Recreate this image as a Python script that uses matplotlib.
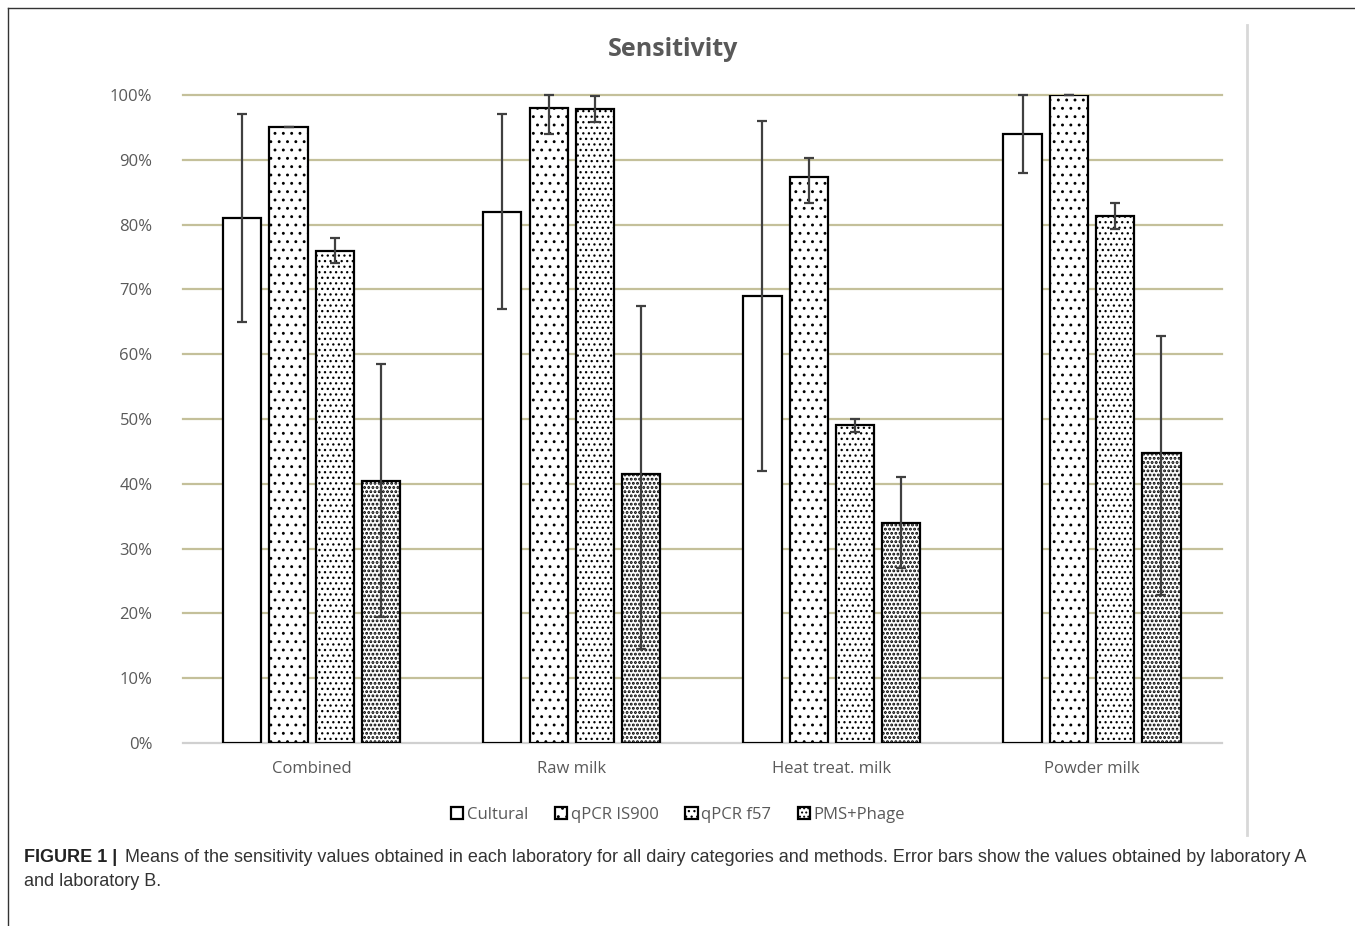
import matplotlib
matplotlib.use("Agg")
import matplotlib.pyplot as plt
import numpy as np
from matplotlib.lines import Line2D

categories = ["Combined", "Raw milk", "Heat treat. milk", "Powder milk"]
methods = ["Cultural", "qPCR IS900", "qPCR f57", "PMS+Phage"]
means = {
    "Cultural":   [81.0, 82.0, 69.0, 94.0],
    "qPCR IS900": [95.0, 98.0, 87.3, 100.0],
    "qPCR f57":   [76.0, 97.8, 49.0, 81.3],
    "PMS+Phage":  [40.5, 41.5, 34.0, 44.8],
}
lows = {
    "Cultural":   [65.0, 67.0, 42.0, 88.0],
    "qPCR IS900": [95.0, 94.0, 83.4, 100.0],
    "qPCR f57":   [74.0, 95.8, 48.0, 79.3],
    "PMS+Phage":  [19.5, 14.5, 27.0, 22.8],
}
highs = {
    "Cultural":   [97.0, 97.0, 96.0, 100.0],
    "qPCR IS900": [95.0, 100.0, 90.3, 100.0],
    "qPCR f57":   [78.0, 99.8, 50.0, 83.3],
    "PMS+Phage":  [58.5, 67.5, 41.0, 62.8],
}
yticks = [0, 10, 20, 30, 40, 50, 60, 70, 80, 90, 100]
hatches = ["", "..", "...", "...."]

plt.rcParams["hatch.linewidth"] = 0.9
plt.rcParams["font.family"] = ["Open Sans", "DejaVu Sans"]

fig = plt.figure(figsize=(13.55, 9.26), dpi=100)
ax = fig.add_axes([183/1355, 1-743/926, (1222-183)/1355, (743-95)/926])

x = np.arange(len(categories))
step = 0.178
width = 0.147
for i, m in enumerate(methods):
    xs = x + (i - 1.5) * step
    vals = np.array(means[m])
    bars = ax.bar(xs, vals, width, color="white", edgecolor="black", linewidth=1.6,
                  hatch=hatches[i], zorder=3)
    if i == 3:
        for b in bars:
            try:
                b.set_hatch_linewidth(1.4)
            except AttributeError:
                pass
    lo = vals - np.array(lows[m])
    hi = np.array(highs[m]) - vals
    ax.errorbar(xs, vals, yerr=[lo, hi], fmt="none", ecolor="#404040",
                elinewidth=1.6, capsize=3.8, capthick=1.6, zorder=4, clip_on=False)

ax.set_xlim(-0.495, 3.5)
ax.set_ylim(0, 100)
ax.set_yticks(yticks)
ax.set_yticklabels([f"{t}%" for t in yticks], color="#595959", fontsize=12)
ax.set_xticks(x)
ax.set_xticklabels(categories, color="#595959", fontsize=12)
ax.tick_params(length=0, pad=22, axis="y")
ax.tick_params(length=0, pad=13, axis="x")
for t in yticks[1:]:
    ax.axhline(t, color="#c4c09a", linewidth=1.6, zorder=1, clip_on=False)
for s in ["top", "right", "left"]:
    ax.spines[s].set_visible(False)
ax.spines["bottom"].set_color("#d0d0d0")
ax.spines["bottom"].set_linewidth(1.6)

fig.text(673/1355, 1-49/926, "Sensitivity", ha="center", va="center",
         fontsize=18, fontweight="bold", color="#595959")

handles = [plt.Rectangle((0, 0), 1, 1, facecolor="white", edgecolor="black",
                         linewidth=1.6, hatch=h) for h in hatches]
fig.legend(handles, methods, loc="center", bbox_to_anchor=(678/1355, 1-815/926),
           ncol=4, frameon=False, fontsize=12, handlelength=0.75, handleheight=0.75,
           handletextpad=0.2, columnspacing=1.6, labelcolor="#595959")

# frame lines
fig.add_artist(Line2D([8/1355, 8/1355], [0, 1-8/926], color="#333333", linewidth=1.0))
fig.add_artist(Line2D([8/1355, 1], [1-8/926, 1-8/926], color="#333333", linewidth=1.0))
fig.add_artist(Line2D([1247/1355, 1247/1355], [1-25/926, 1-835/926], color="#d8d8d8", linewidth=2.0))

cap_font = ["Liberation Sans Narrow", "Liberation Sans", "DejaVu Sans"]
fig.text(24/1355, 1-857/926, "FIGURE 1 |", fontsize=13.0, va="center", ha="left",
         fontweight="bold", family=cap_font, color="#222222")
fig.text(125/1355, 1-857/926,
         "Means of the sensitivity values obtained in each laboratory for all dairy categories and methods. Error bars show the values obtained by laboratory A",
         fontsize=13.0, va="center", ha="left", family=cap_font, color="#333333")
fig.text(24/1355, 1-881/926, "and laboratory B.", fontsize=13.0, va="center", ha="left",
         family=cap_font, color="#333333")

fig.savefig("out.png", dpi=100)
